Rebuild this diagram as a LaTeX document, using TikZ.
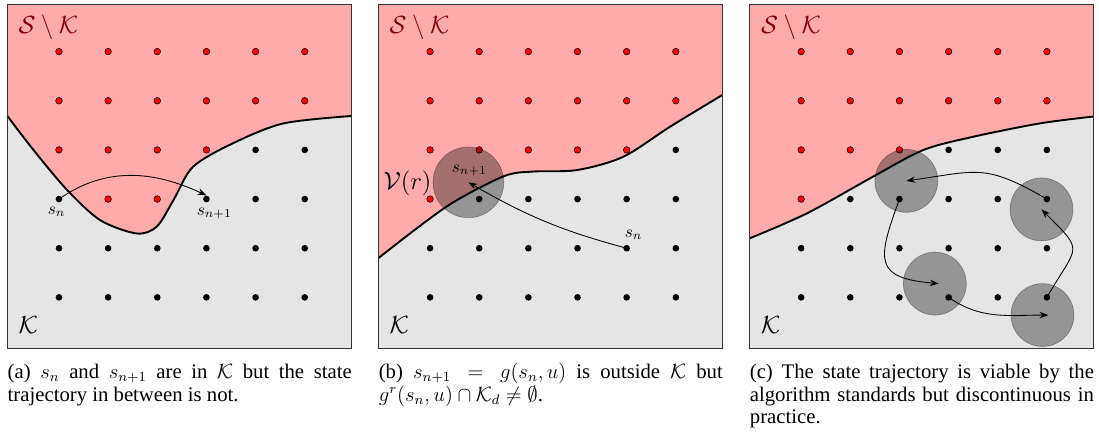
\documentclass[tikz,border=0pt]{standalone}
\usepackage{amsmath,amssymb}
\usepackage{fontspec}
\setmainfont{Liberation Serif}
\usetikzlibrary{arrows.meta,positioning}
\hyphenpenalty=10000
\exhyphenpenalty=10000

\begin{document}
\begin{tikzpicture}[
  panel/.style={draw=black!80, line width=0.6pt},
  bnd/.style={line width=1.1pt},
  kdot/.style={circle, fill=black, inner sep=0pt, minimum size=1.35mm},
  rdot/.style={circle, fill=red, draw=black, line width=0.3pt, inner sep=0pt, minimum size=1.35mm},
  reach/.style={circle, inner sep=0pt, fill=black, fill opacity=0.35, draw=black, draw opacity=0.3},
  setlbl/.style={font=\Large, anchor=west, inner sep=0pt},
  slbl/.style={inner sep=0pt},
  captxt/.style={anchor=base west, inner sep=0pt, text width=7cm, align=justify, font=\fontsize{12}{13.2}\selectfont},
  traj/.style={-{Stealth[length=1.8mm,width=1.3mm]}, line width=0.5pt}
]
\useasboundingbox (-0.2,-1.8) rectangle (22.16,7.05);

% ---------- (a) ----------
\fill[gray!20] (-0.05,-0.05) rectangle (6.95,6.95);
\fill[red!33] (-0.05,6.95) -- plot[smooth] coordinates {(-0.05,4.69) (0.48,4.0) (1.16,3.19) (1.84,2.57) (2.58,2.3) (2.99,2.44) (3.33,2.98) (3.73,3.66) (4.55,4.14) (5.57,4.54) (6.95,4.69)} -- (6.95,6.95) -- cycle;
\draw[bnd] plot[smooth] coordinates {(-0.05,4.69) (0.48,4.0) (1.16,3.19) (1.84,2.57) (2.58,2.3) (2.99,2.44) (3.33,2.98) (3.73,3.66) (4.55,4.14) (5.57,4.54) (6.95,4.69)};
\draw[panel] (-0.05,-0.05) rectangle (6.95,6.95);
\foreach \i in {1,...,6} {
  \foreach \j in {5,6} \node[rdot] (a\i\j) at (\i,\j) {};
  \foreach \j in {1,2} \node[kdot] (a\i\j) at (\i,\j) {};
}
\foreach \i in {1,...,4} \node[rdot] (a\i4) at (\i,4) {};
\foreach \i in {5,6} \node[kdot] (a\i4) at (\i,4) {};
\foreach \i in {2,3} \node[rdot] (a\i3) at (\i,3) {};
\foreach \i in {1,4,5,6} \node[kdot] (a\i3) at (\i,3) {};
\node[setlbl, text=red!50!black] (ska) at (0.17,6.5) {$\mathcal{S}\setminus\mathcal{K}$};
\node[setlbl] (ka) at (0.17,0.44) {$\mathcal{K}$};
\node[slbl] (sna) at (0.95,2.74) {$s_n$};
\node[slbl] (snpa) at (4.16,2.71) {$s_{n+1}$};
\draw[traj] (a13.center) to[out=35,in=155] (a43.north);
\node[captxt] (capa) at (-0.05,-0.646) {(a) $s_n$ and $s_{n+1}$ are in $\mathcal{K}$ but the state trajectory in between is not.};

% ---------- (b) ----------
\begin{scope}[xshift=7.55cm]
\fill[gray!20] (-0.05,-0.05) rectangle (6.95,6.95);
\fill[red!33] (-0.05,6.95) -- plot[smooth] coordinates {(-0.05,1.8) (1.34,2.85) (2.49,3.46) (3.1,3.56) (3.99,3.59) (4.93,3.86) (5.88,4.47) (6.95,5.12)} -- (6.95,6.95) -- cycle;
\draw[bnd] plot[smooth] coordinates {(-0.05,1.8) (1.34,2.85) (2.49,3.46) (3.1,3.56) (3.99,3.59) (4.93,3.86) (5.88,4.47) (6.95,5.12)};
\draw[panel] (-0.05,-0.05) rectangle (6.95,6.95);
\foreach \i in {1,...,6} {
  \foreach \j in {5,6} \node[rdot] (b\i\j) at (\i,\j) {};
  \foreach \j in {1,2} \node[kdot] (b\i\j) at (\i,\j) {};
}
\foreach \i in {1,...,5} \node[rdot] (b\i4) at (\i,4) {};
\node[kdot] (b64) at (6,4) {};
\node[rdot] (b13) at (1,3) {};
\foreach \i in {2,...,6} \node[kdot] (b\i3) at (\i,3) {};
\node[reach, minimum size=1.44cm] (rb) at (1.78,3.34) {};
\node[setlbl, text=red!50!black] (skb) at (0.17,6.5) {$\mathcal{S}\setminus\mathcal{K}$};
\node[setlbl] (kb) at (0.17,0.44) {$\mathcal{K}$};
\node[font=\Large, inner sep=0pt] (vr) at (0.54,3.33) {$\mathcal{V}(r)$};
\node[slbl] (snb) at (5.14,2.27) {$s_n$};
\node[slbl] (snpb) at (1.80,3.58) {$s_{n+1}$};
\draw[traj] (b52.center) to[out=165,in=-30] (rb.center);
\node[captxt] (capb) at (-0.05,-0.646) {(b) $s_{n+1} = g(s_n,u)$ is outside $\mathcal{K}$ but $g^r(s_n,u)\cap\mathcal{K}_d \neq \emptyset$.};
\end{scope}

% ---------- (c) ----------
\begin{scope}[xshift=15.1cm]
\fill[gray!20] (-0.05,-0.05) rectangle (6.95,6.95);
\fill[red!33] (-0.05,6.95) -- plot[smooth] coordinates {(-0.05,2.2) (1.12,2.71) (2.47,3.46) (3.49,4.0) (4.51,4.27) (5.86,4.54) (6.95,4.68)} -- (6.95,6.95) -- cycle;
\draw[bnd] plot[smooth] coordinates {(-0.05,2.2) (1.12,2.71) (2.47,3.46) (3.49,4.0) (4.51,4.27) (5.86,4.54) (6.95,4.68)};
\draw[panel] (-0.05,-0.05) rectangle (6.95,6.95);
\foreach \i in {1,...,6} {
  \foreach \j in {5,6} \node[rdot] (c\i\j) at (\i,\j) {};
  \foreach \j in {1,2} \node[kdot] (c\i\j) at (\i,\j) {};
}
\foreach \i in {1,...,3} \node[rdot] (c\i4) at (\i,4) {};
\foreach \i in {4,...,6} \node[kdot] (c\i4) at (\i,4) {};
\node[rdot] (c13) at (1,3) {};
\foreach \i in {2,...,6} \node[kdot] (c\i3) at (\i,3) {};
% reachable balls
\node[reach, minimum size=1.28cm] (rc1) at (3.14,3.37) {};
\node[reach, minimum size=1.28cm] (rc2) at (5.89,2.79) {};
\node[reach, minimum size=1.28cm] (rc3) at (3.72,1.28) {};
\node[reach, minimum size=1.28cm] (rc4) at (5.91,0.64) {};
\node[setlbl, text=red!50!black] (skc) at (0.18,6.5) {$\mathcal{S}\setminus\mathcal{K}$};
\node[setlbl] (kc) at (0.18,0.44) {$\mathcal{K}$};
\draw[traj] (c33.center) to[out=-110,in=175,looseness=1.8] ([xshift=0.8mm]rc3.center);
\draw[traj] (c41.center) to[out=-35,in=180] ([xshift=1.2mm]rc4.center);
\draw[traj] (c61.center) to[out=60,in=-45,looseness=1.8] (rc2.center);
\draw[traj] (c63.center) to[out=150,in=8,looseness=1.3] (rc1.center);
\node[captxt] (capc) at (-0.05,-0.646) {(c) The state trajectory is viable by the algorithm standards but discontinuous in practice.};
\end{scope}
\end{tikzpicture}
\end{document}
